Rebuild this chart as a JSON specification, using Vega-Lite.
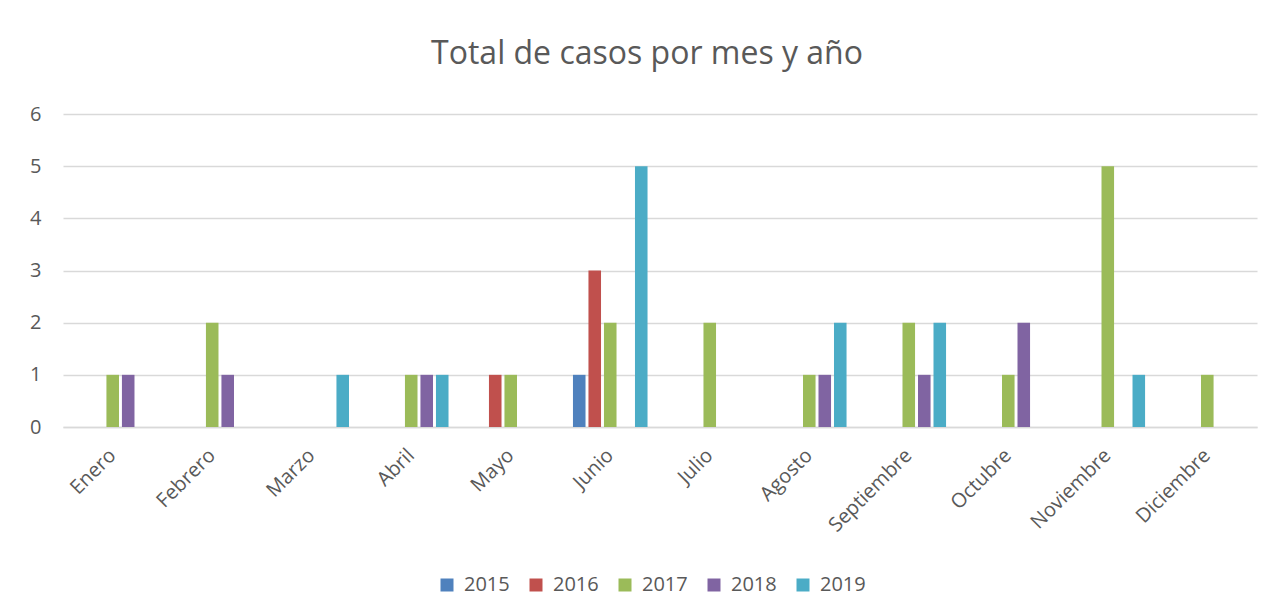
{
  "$schema": "https://vega.github.io/schema/vega-lite/v6.json",
  "width": 1194,
  "height": 313,
  "autosize": {"type": "none"},
  "padding": {"left": 63, "top": 114, "right": 16, "bottom": 188},
  "background": "white",
  "title": {
    "text": "Total de casos por mes y año",
    "font": "Open Sans",
    "fontSize": 32,
    "fontWeight": "normal",
    "color": "#595959",
    "anchor": "middle",
    "baseline": "alphabetic",
    "offset": 8,
    "dx": -13
  },
  "data": {
    "values": [
      {"mes": "Enero", "año": "2017", "casos": 1},
      {"mes": "Enero", "año": "2018", "casos": 1},
      {"mes": "Febrero", "año": "2017", "casos": 2},
      {"mes": "Febrero", "año": "2018", "casos": 1},
      {"mes": "Marzo", "año": "2019", "casos": 1},
      {"mes": "Abril", "año": "2017", "casos": 1},
      {"mes": "Abril", "año": "2018", "casos": 1},
      {"mes": "Abril", "año": "2019", "casos": 1},
      {"mes": "Mayo", "año": "2016", "casos": 1},
      {"mes": "Mayo", "año": "2017", "casos": 1},
      {"mes": "Junio", "año": "2015", "casos": 1},
      {"mes": "Junio", "año": "2016", "casos": 3},
      {"mes": "Junio", "año": "2017", "casos": 2},
      {"mes": "Junio", "año": "2019", "casos": 5},
      {"mes": "Julio", "año": "2017", "casos": 2},
      {"mes": "Agosto", "año": "2017", "casos": 1},
      {"mes": "Agosto", "año": "2018", "casos": 1},
      {"mes": "Agosto", "año": "2019", "casos": 2},
      {"mes": "Septiembre", "año": "2017", "casos": 2},
      {"mes": "Septiembre", "año": "2018", "casos": 1},
      {"mes": "Septiembre", "año": "2019", "casos": 2},
      {"mes": "Octubre", "año": "2017", "casos": 1},
      {"mes": "Octubre", "año": "2018", "casos": 2},
      {"mes": "Noviembre", "año": "2017", "casos": 5},
      {"mes": "Noviembre", "año": "2019", "casos": 1},
      {"mes": "Diciembre", "año": "2017", "casos": 1}
    ]
  },
  "mark": {"type": "bar"},
  "encoding": {
    "x": {
      "field": "mes",
      "type": "nominal",
      "sort": ["Enero","Febrero","Marzo","Abril","Mayo","Junio","Julio","Agosto","Septiembre","Octubre","Noviembre","Diciembre"],
      "scale": {"domain": ["Enero","Febrero","Marzo","Abril","Mayo","Junio","Julio","Agosto","Septiembre","Octubre","Noviembre","Diciembre"], "paddingInner": 0.221, "paddingOuter": 0.11},
      "axis": {
        "title": null,
        "labelAngle": -45,
        "labelAlign": "right",
        "labelBaseline": "middle",
        "labelFont": "Open Sans",
        "labelFontSize": 20,
        "labelColor": "#595959",
        "labelPadding": 25,
        "ticks": false,
        "domainColor": "#d9d9d9",
        "domainWidth": 1.5,
        "grid": false
      }
    },
    "xOffset": {
      "field": "año",
      "type": "nominal",
      "scale": {"domain": ["2015","2016","2017","2018","2019"], "paddingInner": 0.19, "paddingOuter": 0.095}
    },
    "y": {
      "field": "casos",
      "type": "quantitative",
      "scale": {"domain": [0, 6]},
      "axis": {
        "title": null,
        "values": [0,1,2,3,4,5,6],
        "labelFont": "Open Sans",
        "labelFontSize": 20,
        "labelColor": "#595959",
        "labelPadding": 22,
        "ticks": false,
        "domain": false,
        "gridColor": "#d9d9d9",
        "gridWidth": 1.5
      }
    },
    "color": {
      "field": "año",
      "type": "nominal",
      "scale": {"domain": ["2015","2016","2017","2018","2019"], "range": ["#4F81BD","#C0504D","#9BBB59","#8064A2","#4BACC6"]},
      "legend": {
        "title": null,
        "orient": "none",
        "direction": "horizontal",
        "legendX": 374,
        "legendY": 461,
        "symbolType": "square",
        "symbolSize": 169,
        "symbolStrokeWidth": 0,
        "labelFont": "Open Sans",
        "labelFontSize": 20,
        "labelColor": "#595959",
        "labelOffset": 7,
        "columnPadding": 16
      }
    }
  },
  "config": {
    "view": {"stroke": null}
  }
}
